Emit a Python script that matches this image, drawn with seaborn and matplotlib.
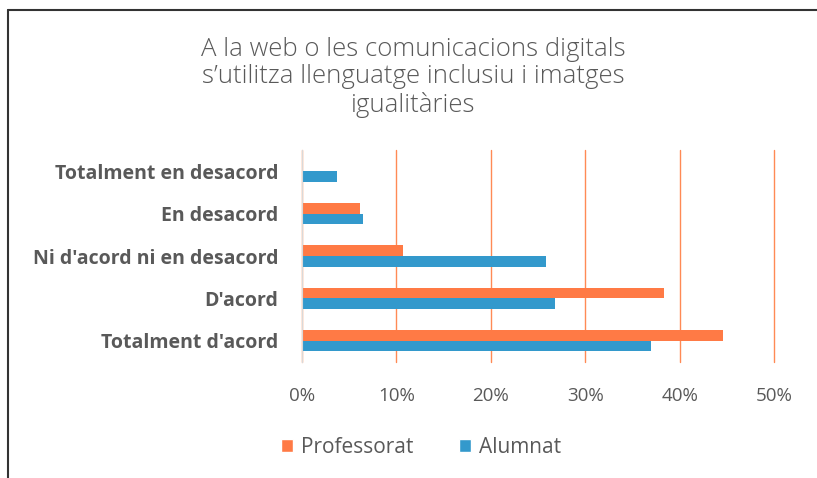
import pandas as pd
import seaborn as sns
import matplotlib.pyplot as plt
from matplotlib.lines import Line2D
from matplotlib.patches import Patch
from matplotlib.ticker import PercentFormatter

# categories and series
categories = ["Totalment en desacord", "En desacord", "Ni d'acord ni en desacord",
              "D'acord", "Totalment d'acord"]
professorat = [0.0, 6.1, 10.7, 38.4, 44.6]
alumnat = [3.7, 6.5, 25.9, 26.8, 37.0]
series = ["Professorat", "Alumnat"]
colors = ["#FF7A45", "#3399CC"]
xticks = [0, 10, 20, 30, 40, 50]

df = pd.DataFrame({
    "cat": categories * 2,
    "val": professorat + alumnat,
    "grup": ["Professorat"] * 5 + ["Alumnat"] * 5,
})

sns.set_style("white")
plt.rcParams["font.family"] = ["Open Sans", "DejaVu Sans"]
grey = "#595959"

fig = plt.figure(figsize=(8.17, 4.78), dpi=100)
ax = fig.add_axes([302 / 817, 1 - 362 / 478, (774 - 302) / 817, (362 - 150) / 478])

sns.barplot(data=df, x="val", y="cat", hue="grup", order=categories, hue_order=series,
            palette=colors, saturation=1, width=0.5, orient="h", ax=ax, legend=False,
            linewidth=0)

ax.set_xlim(0, 50)
ax.set_xticks(xticks)
ax.xaxis.set_major_formatter(PercentFormatter(decimals=0))
ax.grid(axis="x", color="#FF8A55", linewidth=1)
ax.set_axisbelow(True)
for gl in ax.get_xgridlines():
    gl.set_clip_on(False)
for s in ["top", "right", "bottom"]:
    ax.spines[s].set_visible(False)
ax.spines["left"].set_color("#D9D9D9")
ax.set_xlabel("")
ax.set_ylabel("")
ax.tick_params(axis="x", length=0, pad=18, labelsize=13.5, labelcolor=grey)
ax.tick_params(axis="y", length=0, pad=17, labelcolor=grey)
for lab in ax.get_yticklabels():
    lab.set_fontweight("bold")
    lab.set_fontsize(14)

fig.text(0.506, 0.838, "A la web o les comunicacions digitals\ns’utilitza llenguatge inclusiu i imatges\nigualitàries",
         ha="center", va="center", fontsize=18.5, color=grey, linespacing=1.13,
         fontweight="light")

handles = [Patch(facecolor=c, label=s) for c, s in zip(colors, series)]
fig.legend(handles=handles, loc="center", bbox_to_anchor=(0.515, 0.064), ncol=2, frameon=False,
           fontsize=15, handlelength=0.6, handleheight=0.6, handletextpad=0.35,
           columnspacing=2.2, labelcolor=grey)

# outer chart frame (top and left edges visible in the reference)
fig.add_artist(Line2D([8 / 817, 8 / 817], [0, 1 - 9.5 / 478], color="#333333", linewidth=1.5))
fig.add_artist(Line2D([8 / 817, 1], [1 - 9.5 / 478, 1 - 9.5 / 478], color="#333333", linewidth=1.5))

fig.savefig("out.png", dpi=100)
